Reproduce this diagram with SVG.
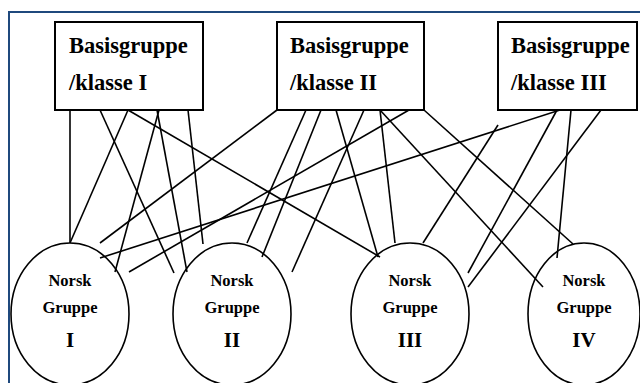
<svg xmlns="http://www.w3.org/2000/svg" width="640" height="383" viewBox="0 0 640 383">
<style>
.frame{fill:none;stroke:#1f497d;stroke-width:2}
.box{fill:#fff;stroke:#000;stroke-width:2}
.ell{fill:#fff;stroke:#000;stroke-width:1.6}
.bt{font-family:"Liberation Serif","Times New Roman",serif;font-weight:bold;font-size:22.5px;fill:#000}
.nt{font-family:"Liberation Serif","Times New Roman",serif;font-weight:bold;font-size:16.5px;fill:#000;text-anchor:middle}
.rt{font-family:"Liberation Serif","Times New Roman",serif;font-weight:bold;font-size:21px;fill:#000;text-anchor:middle}
#connectors line{stroke:#000;stroke-width:1.6}
</style>
<rect x="0" y="0" width="640" height="383" fill="#fff"/>
<rect class="frame" x="9" y="12" width="640" height="380"/>
<g id="ellipse-I"><ellipse class="ell" cx="70" cy="314" rx="59" ry="71"/><text class="nt" x="70" y="286">Norsk</text><text class="nt" x="70" y="313">Gruppe</text><text class="rt" x="70" y="347">I</text></g>
<g id="ellipse-II"><ellipse class="ell" cx="232" cy="314" rx="59" ry="71"/><text class="nt" x="232" y="286">Norsk</text><text class="nt" x="232" y="313">Gruppe</text><text class="rt" x="232" y="347">II</text></g>
<g id="ellipse-III"><ellipse class="ell" cx="410" cy="314" rx="59" ry="71"/><text class="nt" x="410" y="286">Norsk</text><text class="nt" x="410" y="313">Gruppe</text><text class="rt" x="410" y="347">III</text></g>
<g id="ellipse-IV"><ellipse class="ell" cx="584" cy="314" rx="56" ry="71"/><text class="nt" x="584" y="286">Norsk</text><text class="nt" x="584" y="313">Gruppe</text><text class="rt" x="584" y="347">IV</text></g>
<g id="connectors">
<line x1="70" y1="110" x2="70" y2="243"/>
<line x1="100" y1="110" x2="174" y2="273"/>
<line x1="128" y1="110" x2="70" y2="243"/>
<line x1="128" y1="110" x2="380" y2="257"/>
<line x1="159" y1="110" x2="115" y2="272"/>
<line x1="157" y1="110" x2="187" y2="272"/>
<line x1="188" y1="110" x2="203" y2="244"/>
<line x1="277" y1="110" x2="100" y2="243"/>
<line x1="306" y1="110" x2="247" y2="243"/>
<line x1="321" y1="110" x2="262" y2="257"/>
<line x1="336" y1="110" x2="378" y2="257"/>
<line x1="364" y1="110" x2="292" y2="272"/>
<line x1="380" y1="110" x2="395" y2="243"/>
<line x1="380" y1="110" x2="543" y2="287"/>
<line x1="409" y1="110" x2="129" y2="272"/>
<line x1="424" y1="110" x2="573" y2="244"/>
<line x1="560" y1="110" x2="100" y2="258"/>
<line x1="557" y1="110" x2="468" y2="273"/>
<line x1="571" y1="110" x2="557" y2="258"/>
<line x1="601" y1="110" x2="468" y2="287"/>
<line x1="498" y1="125" x2="423" y2="243"/>
</g>
<g id="box-I"><rect class="box" x="55" y="22" width="148" height="88"/><text class="bt" x="69" y="53">Basisgruppe</text><text class="bt" x="69" y="90">/klasse I</text></g>
<g id="box-II"><rect class="box" x="277" y="22" width="147" height="88"/><text class="bt" x="290" y="53">Basisgruppe</text><text class="bt" x="290" y="90">/klasse II</text></g>
<g id="box-III"><rect class="box" x="498" y="22" width="139" height="88"/><text class="bt" x="511" y="53">Basisgruppe</text><text class="bt" x="511" y="90">/klasse III</text></g>
</svg>
